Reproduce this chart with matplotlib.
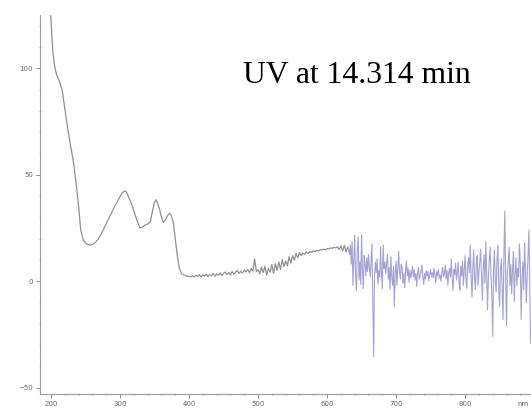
import numpy as np
import matplotlib
matplotlib.use("Agg")
import matplotlib.pyplot as plt
from matplotlib.ticker import MultipleLocator

# smooth part of the spectrum (nm, absorbance mAU)
smooth_wl = [199, 202.5, 205.5, 208, 212, 216, 220, 224, 228, 232, 236, 240, 243, 247,
             251, 255, 259, 263, 268, 274, 280, 286, 292, 298, 303, 307, 309, 313, 317,
             321, 325, 329, 333, 337, 341, 344, 347, 350, 352, 354, 357, 360, 363, 366,
             369, 372, 374, 377, 380, 383, 386, 389, 392, 396, 400]
smooth_val = [128, 108, 100.5, 97, 94, 90, 81, 72, 64, 57, 47, 35, 24, 19,
              17.6, 17, 17, 17.8, 19.5, 23, 27, 31, 35, 38.5, 41.5, 42.5, 42, 39, 36,
              32, 28, 25, 25.5, 26.5, 27, 28, 33, 37, 38.3, 37, 34, 30, 27.5, 29,
              31, 31.8, 31, 28, 20, 12, 6, 3.5, 3, 2.4, 2.3]

# baseline part 402.5 - 630 nm, step 2.5 nm
base_start = 402.5
base_step = 2.5
base_val = [
    2.0, 2.6, 1.9, 2.8, 2.2, 3.1, 2.0, 2.9, 2.4, 3.3, 2.1, 3.0, 2.6, 3.6, 2.3, 3.4,
    2.8, 3.9, 2.6, 3.7, 4.3, 3.0, 4.1, 2.9, 4.5, 3.4, 4.2, 5.0, 3.6, 4.6, 3.8, 5.2,
    4.3, 5.5, 4.0, 6.0, 4.7, 10.5, 4.5, 5.4,
    3.5, 6.5, 4.0, 7.0, 2.8, 6.0, 4.2, 7.8, 3.6, 8.2, 5.0, 9.0, 5.5, 10.2, 6.8, 9.5,
    7.2, 11.5, 8.5, 12.0, 9.8, 13.0, 11.0, 13.5, 12.0, 13.2, 12.6, 13.8, 13.0, 13.9,
    13.5, 14.2, 13.9, 14.5, 14.1, 14.8, 14.6, 15.0, 14.8, 15.3, 15.1, 15.6, 15.4,
    15.9, 15.6, 16.1, 14.8, 16.6, 14.2, 16.8, 13.8, 16.0,
]

# noisy part 631.25 - 895 nm, step 1.25 nm
noise_start = 631.25
noise_step = 1.25
noise_val = [
    # 631.25 - 700
    15.0, 12.5, 17.0, 8.0, 18.5, -2.0, 10.0, 21.5, 3.0, -4.5, 14.0, 20.8,
    0.5, 9.0, -1.5, 21.8, 6.0, -3.5, 12.0, 8.0, 2.5, 11.0, 4.5, 12.5,
    6.5, 2.0, 10.0, 17.5, -8.0, -35.5, 3.0, 9.0, 4.0, 10.5, -1.5, 5.0,
    2.0, 16.0, 3.5, -3.5, 17.0, 6.0, 9.0, 3.5, 8.0, 12.5, 1.0, 6.5,
    -4.0, 11.5, 2.0, -2.0, 7.0, -12.0, 4.0, 9.5,
    # 701.25 - 805
    -2.0, 6.0, 14.0, 4.5, 1.0, 8.0, 6.5, -1.0, 3.5, -3.0, 5.0, 9.5,
    2.5, 6.0, -0.5, 5.0, 1.5, 4.0, 7.0, 2.0, 5.5, 0.5, 3.5, -2.5,
    4.0, 6.5, 1.0, 3.0, 5.0, 7.5, 2.0, -1.5, 3.5, 1.0, 5.0, 2.5,
    4.5, 0.0, 3.0, 5.5, 2.0, 4.0, 1.5, 6.0, 3.0, -1.0, 4.5, 2.5,
    5.5, 1.5, 3.0, 0.0, 4.0, 6.5, 2.0, 3.5, 7.5, 1.0, 5.0, -2.0,
    3.5, 6.0, 2.0, 10.5, 1.0, -4.5, 5.5, 3.0, 8.5, 0.5, 4.0, 9.0,
    -1.0, -4.0, 7.0, 2.5, 9.5, -2.0, 5.0, 12.0, 1.0, -3.5, 8.0, 11.0,
    # 806.25 - 895
    4.0, 17.0, 2.0, -7.5, 6.0, 14.5, 1.0, -4.0, 8.0, 12.0, -2.0, 4.0,
    9.0, 15.0, 3.0, -9.0, 5.0, 12.5, -1.0, 18.5, 4.0, -13.5, 2.0, 9.0,
    16.0, 3.0, -6.0, -26.0, 5.0, 14.5, 0.0, -5.0, 10.0, 17.0, -3.0, -12.0,
    6.0, 10.5, -4.0, -18.0, 12.0, 33.0, 2.0, -21.0, 4.0, 9.0, 16.0, -2.0,
    8.0, -6.0, 5.0, 14.0, -9.5, 3.0, 11.0, -2.0, 6.0, 2.0, 17.5, 8.0,
    -18.0, 1.0, 9.0, -4.0, 18.0, 5.0, -10.0, 3.0, 12.0, 24.0, -5.0, -29.0,
]

x_ticks = [200, 300, 400, 500, 600, 700, 800]
y_ticks = [-50, 0, 50, 100]
title_text = "UV at 14.314 min"

base_wl = base_start + base_step * np.arange(len(base_val))
noise_wl = noise_start + noise_step * np.arange(len(noise_val))

fig = plt.figure(figsize=(5.31, 4.08), dpi=100)
W, H = 531, 408
ax = fig.add_axes([40 / W, (H - 394) / H, (W - 40) / W, (394 - 15) / H])

gray_wl = np.concatenate([smooth_wl, base_wl])
gray_val = np.concatenate([smooth_val, base_val])
ax.plot(gray_wl, gray_val, color="#8f8f95", lw=0.9)
ax.plot(np.concatenate([base_wl[-1:], noise_wl]),
        np.concatenate([base_val[-1:], noise_val]),
        color="#a3a3d2", lw=0.8)

ax.set_xlim(184, 895.5)
ax.set_ylim(-53, 125)
ax.set_xticks(x_ticks)
ax.set_yticks(y_ticks)
ax.xaxis.set_minor_locator(MultipleLocator(20))
ax.yaxis.set_minor_locator(MultipleLocator(10))

for s in ["top", "right"]:
    ax.spines[s].set_visible(False)
for s in ["left", "bottom"]:
    ax.spines[s].set_color("#9a9a9a")
    ax.spines[s].set_linewidth(0.8)

ax.tick_params(axis="both", which="major", colors="#8a8a8a", labelcolor="#666666",
               labelsize=5, length=3, width=0.7, direction="out", pad=2)
ax.tick_params(axis="both", which="minor", colors="#a0a0a0", length=2, width=0.6,
               direction="inout")

fig.text(517 / W, (H - 404) / H, "nm", fontsize=5, color="#666666",
         ha="left", va="center")

ax.text(243 / W, (H - 83) / H, title_text, transform=fig.transFigure,
        fontsize=22.8, family="Liberation Serif", color="black",
        ha="left", va="baseline")

fig.savefig("out.png", dpi=100)
